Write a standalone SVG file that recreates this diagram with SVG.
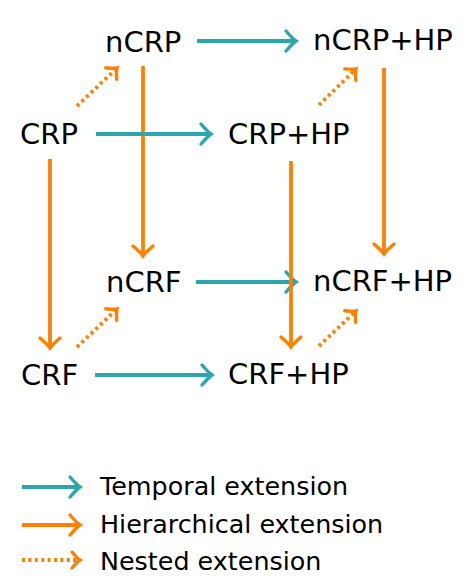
<svg xmlns="http://www.w3.org/2000/svg" width="472" height="581" viewBox="0 0 472 581">
<style>
text{font-family:"DejaVu Sans","Liberation Sans",sans-serif;fill:#000;}
.n{font-size:29px;}
.l{font-size:25.4px;}
.t{stroke:#2ba6ad;stroke-width:3.8;fill:none;}
.h{stroke:#ff8000;stroke-width:3.8;fill:none;}
.d{stroke:#ff8000;stroke-width:3.8;fill:none;stroke-dasharray:3 3.4;}
</style>
<defs>
<marker id="at" markerUnits="userSpaceOnUse" viewBox="-14 -12 16 24" refX="0" refY="0" markerWidth="16" markerHeight="24" orient="auto" overflow="visible">
<path d="M-10,-10 Q-3,-2 0,0 Q-3,2 -10,10" fill="none" stroke="#2ba6ad" stroke-width="3.4" stroke-linecap="round"/>
</marker>
<marker id="ah" markerUnits="userSpaceOnUse" viewBox="-14 -12 16 24" refX="0" refY="0" markerWidth="16" markerHeight="24" orient="auto" overflow="visible">
<path d="M-10,-10 Q-3,-2 0,0 Q-3,2 -10,10" fill="none" stroke="#ff8000" stroke-width="3.4" stroke-linecap="round"/>
</marker>
<marker id="ad" markerUnits="userSpaceOnUse" viewBox="-14 -12 16 24" refX="0" refY="0" markerWidth="16" markerHeight="24" orient="auto" overflow="visible">
<path d="M-8,-8 Q-2.5,-1.5 0,0 Q-2.5,1.5 -8,8" fill="none" stroke="#ff8000" stroke-width="3.4" stroke-linecap="round"/>
</marker>
</defs>
<g id="connectors">
<line class="h" x1="143" y1="66" x2="143" y2="256" marker-end="url(#ah)"/>
<line class="h" x1="384" y1="68" x2="384" y2="254" marker-end="url(#ah)"/>
<line class="t" x1="197" y1="41" x2="296" y2="41" marker-end="url(#at)"/>
<line class="t" x1="96" y1="134" x2="211" y2="134" marker-end="url(#at)"/>
<line class="t" x1="196" y1="282" x2="296" y2="282" marker-end="url(#at)"/>
<line class="t" x1="95" y1="375" x2="212" y2="375" marker-end="url(#at)"/>
<line class="h" x1="50" y1="159" x2="50" y2="348" marker-end="url(#ah)"/>
<line class="h" x1="291" y1="161" x2="291" y2="347" marker-end="url(#ah)"/>
<line class="d" x1="77" y1="106" x2="117" y2="68" marker-end="url(#ad)"/>
<line class="d" x1="319" y1="105" x2="356" y2="69" marker-end="url(#ad)"/>
<line class="d" x1="77" y1="347" x2="117" y2="309" marker-end="url(#ad)"/>
<line class="d" x1="319" y1="346" x2="356" y2="311" marker-end="url(#ad)"/>
</g>
<g id="nCRP"><text class="n" x="105" y="52">nCRP</text></g>
<g id="nCRP_HP"><text class="n" x="313" y="50">nCRP+HP</text></g>
<g id="CRP"><text class="n" x="20" y="144">CRP</text></g>
<g id="CRP_HP"><text class="n" x="228" y="144">CRP+HP</text></g>
<g id="nCRF"><text class="n" x="106" y="292">nCRF</text></g>
<g id="nCRF_HP"><text class="n" x="313" y="291">nCRF+HP</text></g>
<g id="CRF"><text class="n" x="21" y="385">CRF</text></g>
<g id="CRF_HP"><text class="n" x="228" y="384">CRF+HP</text></g>
<g id="legend">
<line class="t" x1="22" y1="487" x2="80" y2="487" marker-end="url(#at)"/>
<text class="l" x="100" y="495">Temporal extension</text>
<line class="h" x1="22" y1="525" x2="80" y2="525" marker-end="url(#ah)"/>
<text class="l" x="100" y="533">Hierarchical extension</text>
<line class="d" x1="22" y1="560" x2="80" y2="560" marker-end="url(#ad)"/>
<text class="l" x="100" y="570">Nested extension</text>
</g>
</svg>
